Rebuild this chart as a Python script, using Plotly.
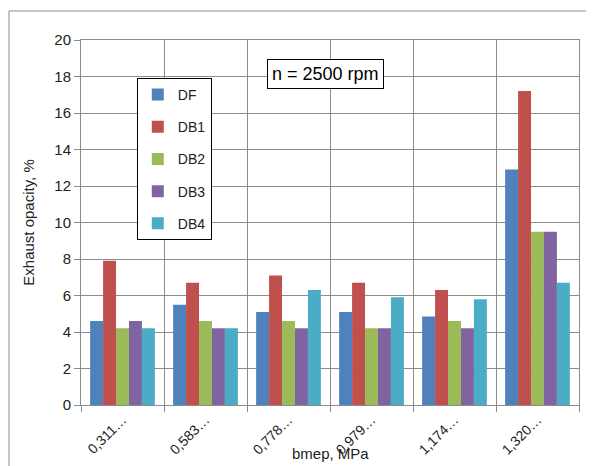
import plotly.graph_objects as go

categories = ["0,311…", "0,583…", "0,778…", "0,979…", "1,174…", "1,320…"]
series_names = ["DF", "DB1", "DB2", "DB3", "DB4"]
DF = [4.6, 5.5, 5.1, 5.1, 4.85, 12.9]
DB1 = [7.9, 6.7, 7.1, 6.7, 6.3, 17.2]
DB2 = [4.2, 4.6, 4.6, 4.2, 4.6, 9.5]
DB3 = [4.6, 4.2, 4.2, 4.2, 4.2, 9.5]
DB4 = [4.2, 4.2, 6.3, 5.9, 5.8, 6.7]
colors = ["#4F81BD", "#C0504D", "#9BBB59", "#8064A2", "#4BACC6"]

font_family = "Liberation Sans, Arial, sans-serif"

fig = go.Figure()
for name, vals, col in zip(series_names, [DF, DB1, DB2, DB3, DB4], colors):
    fig.add_trace(go.Bar(x=categories, y=vals, name=name, marker_color=col,
                         marker_line_width=0, legendgroup=name))

fig.update_layout(
    width=594, height=466,
    margin=dict(l=73, r=23, t=32, b=69),
    paper_bgcolor="white", plot_bgcolor="white",
    font=dict(family=font_family, size=14, color="#222"),
    barmode="group", bargap=0.22, bargroupgap=0,
    showlegend=True,
    legend=dict(x=0.112, y=0.896, xanchor="left", yanchor="top",
                bordercolor="black", borderwidth=1, bgcolor="white",
                font=dict(size=14), tracegroupgap=11, itemwidth=30,
                traceorder="grouped"),
)
fig.update_xaxes(
    type="category", tickson="boundaries", showgrid=True, gridcolor="#8c8c8c",
    gridwidth=1, ticks="outside", ticklen=6, tickcolor="#8c8c8c",
    showline=True, linecolor="#8c8c8c", mirror=True,
    tickangle=-45, tickfont=dict(size=14),
    automargin=False,
)
fig.update_yaxes(
    range=[0, 20], dtick=2, showgrid=True, gridcolor="#8c8c8c", gridwidth=1,
    ticks="outside", ticklen=6, tickcolor="#8c8c8c",
    showline=True, linecolor="#8c8c8c", mirror=True, zeroline=False,
    tickfont=dict(size=15),
    title=dict(text="Exhaust opacity, %", font=dict(size=15), standoff=16),
    automargin=False,
)
# x-axis title placed as an annotation so that it stays inside the picture
fig.add_annotation(
    xref="paper", yref="paper", x=0.5, y=-0.163, yanchor="bottom",
    text="bmep, MPa", showarrow=False, font=dict(size=15, color="#222"),
)
fig.add_annotation(
    xref="paper", yref="paper", x=0.49, y=0.948, text="n = 2500 rpm",
    showarrow=False, font=dict(size=18, color="black"),
    bordercolor="black", borderwidth=1, borderpad=4, bgcolor="white",
)
# outer chart frame
fig.add_shape(type="rect", xref="paper", yref="paper",
              x0=-0.1446, y0=-0.3, x1=1.2, y1=1.0795,
              line=dict(color="#8c8c8c", width=1), layer="below")

fig.write_html("out.html")
